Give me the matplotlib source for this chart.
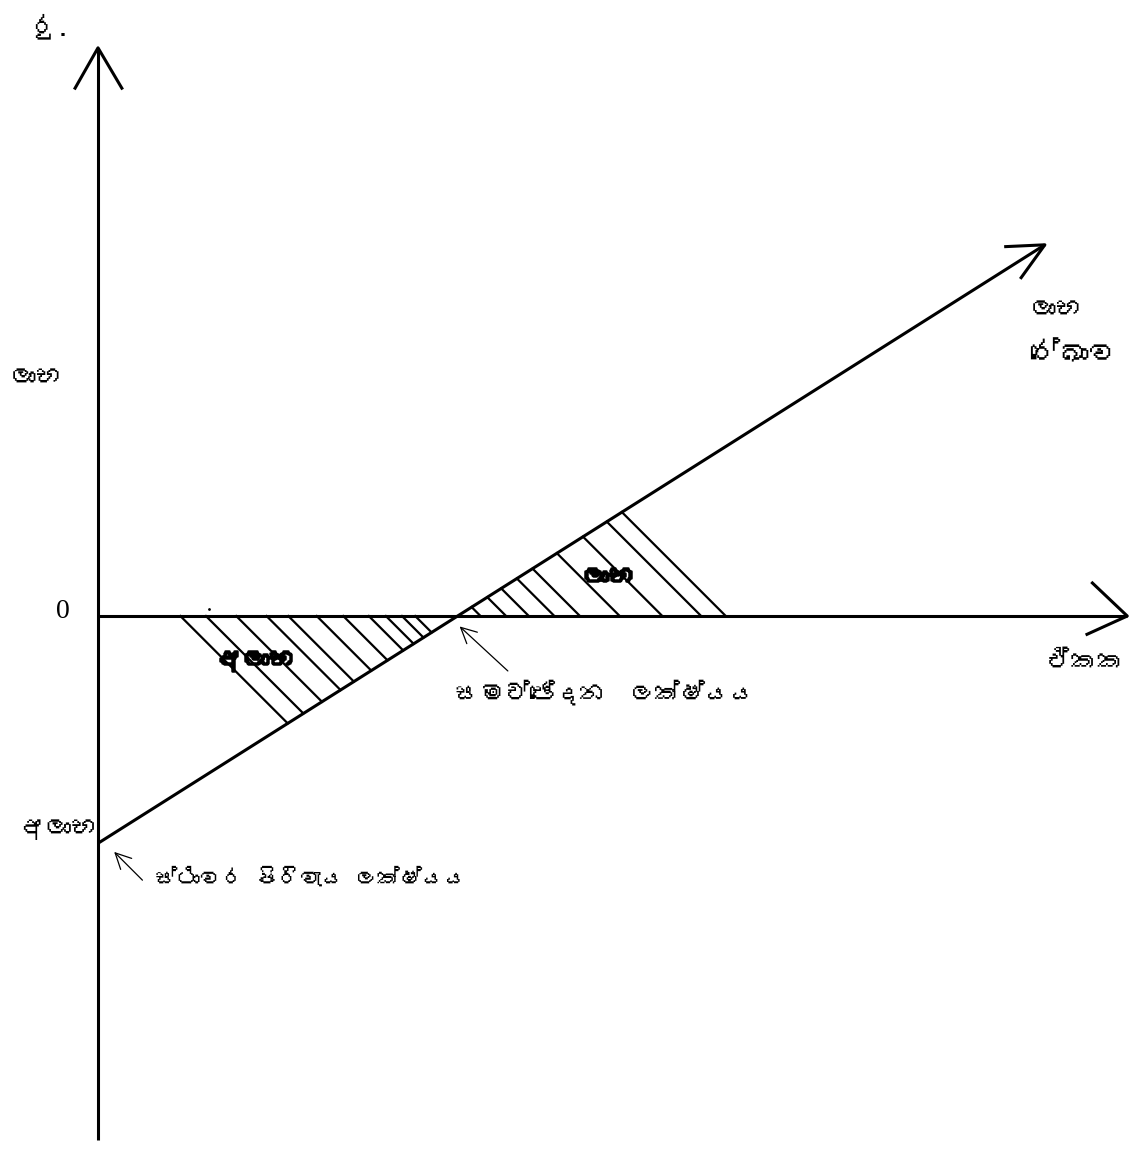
import matplotlib
matplotlib.use('Agg')
import matplotlib.pyplot as plt
import matplotlib.patheffects as pe
import numpy as np
from matplotlib import font_manager
from matplotlib.ft2font import FT2Font

# profit line: units sold against profit (Rs.)
units_max = 10.0
fixed_cost = 2.4
margin_per_unit = 0.632

# where the hatch strokes cut the units axis
loss_hatch_at = [0.87, 1.14, 1.46, 1.78, 2.01, 2.31, 2.59, 2.86, 3.04, 3.21, 3.35]
profit_hatch_at = [4.04, 4.31, 4.55, 4.82, 5.09, 5.51, 5.96, 6.37, 6.63]

lbl_rs = 'රු.'
lbl_profit = 'ලාභ'
lbl_loss = 'අලාභ'
lbl_units = 'ඒකක'
lbl_line = 'රේඛාව'
lbl_breakeven = 'සමච්ඡේදන  ලක්ෂ්යය'
lbl_fixed = 'ස්ථාවර පිරිවැය ලක්ෂ්යය'


def sinhala_fonts():
    found = []
    seen = set()
    for f in font_manager.fontManager.ttflist:
        if f.fname in seen:
            continue
        seen.add(f.fname)
        try:
            cmap = FT2Font(f.fname).get_charmap()
        except Exception:
            continue
        if 0x0DBD in cmap and f.name not in found:
            found.append(f.name)
    # proportional faces read better than monospaced ones
    found.sort(key=lambda n: ('Mono' in n, 'Sans' in n))
    return found


si = sinhala_fonts()
fam = si[:1] + ['DejaVu Serif']


def profit(x):
    return -fixed_cost + margin_per_unit * np.asarray(x)


def hit_line(a):
    # a 45 degree stroke through (a, 0) meets the profit line here
    return (a + fixed_cost) / (1 + margin_per_unit)


fig = plt.figure(figsize=(11.32, 11.49), dpi=100)
ax = fig.add_axes([0, 0, 1, 1])
ax.set_xlim(-1.035, 10.92)
ax.set_ylim(-5.628, 6.505)
ax.axis('off')

k = dict(color='black', lw=2.2, solid_capstyle='butt')

# axes with open arrow heads
ax.plot([0, 0], [-5.53, 6.0], **k)
ax.plot([-0.25, 0, 0.26], [5.56, 6.0, 5.56], **k)
x_tip = 10.87
ax.plot([0, x_tip], [0, 0], **k)
ax.plot([x_tip - 0.38, x_tip, x_tip - 0.44], [0.36, 0, -0.20], **k)

# profit line
xs = np.array([0, units_max])
ys = profit(xs)
ax.plot(xs, ys, **k)
ax.plot([xs[1] - 0.43, xs[1], xs[1] - 0.26], [ys[1] - 0.02, ys[1], ys[1] - 0.36], **k)

# hatching of loss and profit areas
for a in loss_hatch_at + profit_hatch_at:
    xe = hit_line(a)
    ax.plot([a, xe], [0, a - xe], color='black', lw=1.6)

ax.plot([1.17], [0.07], marker='.', color='black', ms=2)

be = fixed_cost / margin_per_unit
arr = dict(arrowstyle='->', lw=0.9, color='black', mutation_scale=28)
ax.annotate('', xy=(be, -0.09), xytext=(4.35, -0.60), arrowprops=arr)
ax.annotate('', xy=(0.15, -2.47), xytext=(0.49, -2.81), arrowprops=arr)

heavy = [pe.withStroke(linewidth=1.8, foreground='black')]


def t(x, y, s, **kw):
    kw.setdefault('fontsize', 19)
    kw.setdefault('family', fam)
    fig.text(x / 1132, 1 - y / 1149, s, **kw)


t(50, 26, lbl_rs, ha='center', va='center')
t(36, 378, lbl_profit, ha='center', va='center')
t(70, 612, '0', ha='right', va='center', family=['Liberation Serif'], fontsize=20)
t(58, 830, lbl_loss, ha='center', va='center')
t(155, 878, lbl_fixed, ha='left', va='center', fontsize=16)
t(455, 692, lbl_breakeven, ha='left', va='center', fontsize=18)
t(608, 577, lbl_profit, ha='center', va='center', path_effects=heavy)
t(255, 661, lbl_loss, ha='center', va='center', path_effects=heavy)
t(1030, 310, lbl_profit, ha='left', va='center')
t(1030, 355, lbl_line, ha='left', va='center', fontsize=21)
t(1046, 662, lbl_units, ha='left', va='center')

fig.savefig('out.png', dpi=100, facecolor='white')
